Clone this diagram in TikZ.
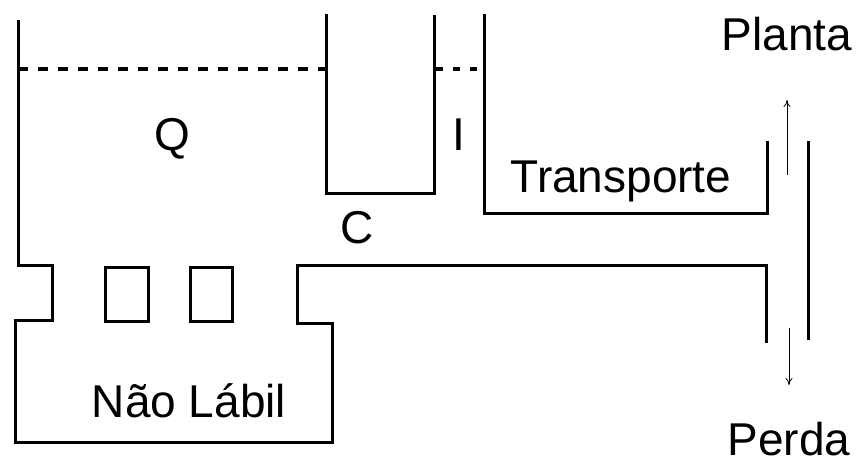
\documentclass[tikz,border=0pt]{standalone}
\usepackage{fontspec}
\setmainfont{Liberation Sans}
\usetikzlibrary{arrows.meta}
\begin{document}
\begin{tikzpicture}[x=1pt,y=-1pt,
  wall/.style={line width=3pt,line join=miter},
  level/.style={line width=3.2pt,dash pattern=on 10pt off 10pt},
  flow/.style={line width=0.8pt,-{To[length=7pt,width=7pt]}},
  lbl/.style={anchor=base,inner sep=0pt,font=\fontsize{46}{54}\selectfont}]
\useasboundingbox (0,0) rectangle (857,464);
% main tank Q and non-labile pool
\draw[wall] (18,20) -- (18,265) -- (52,265) -- (52,320) -- (15,320) -- (15,442)
  -- (332,442) -- (332,323) -- (297,323) -- (297,265) -- (766,265) -- (766,343);
% small boxes
\draw[wall] (105,267) rectangle (148,321);
\draw[wall] (190,267) rectangle (232,321);
% cup C
\draw[wall] (326,14) -- (326,193) -- (434,193) -- (434,15);
% transport channel
\draw[wall] (484,14) -- (484,213) -- (767,213) -- (767,141);
% outer wall
\draw[wall] (808,141) -- (808,340);
% levels
\draw[level] (18,69) -- (326,69);
\draw[level,dash pattern=on 7pt off 10pt] (436,69) -- (484,69);
% arrows
\coordinate (upS) at (787,175); \coordinate (upE) at (787,100);
\coordinate (dnS) at (789,328); \coordinate (dnE) at (789,385);
\draw[flow] (upS) -- (upE);
\draw[flow] (dnS) -- (dnE);
% labels
\node[lbl] (q) at (172,150) {Q};
\node[lbl] (i) at (459,150) {I};
\node[lbl] (tr) at (621,192) {Transporte};
\node[lbl] (c) at (357,243) {C};
\node[lbl] (nl) at (189,417) {Não Lábil};
\node[lbl] (pl) at (787,50) {Planta};
\node[lbl] (pe) at (789,455) {Perda};
\end{tikzpicture}
\end{document}
